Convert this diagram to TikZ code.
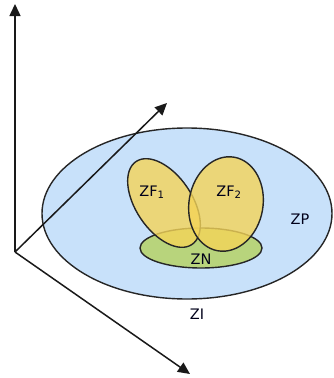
\documentclass[tikz,border=0pt]{standalone}
\usepackage{fontspec}
\setmainfont{DejaVu Sans}
\usetikzlibrary{arrows.meta}

\definecolor{zpblue}{RGB}{200,225,250}
\definecolor{zngreen}{RGB}{184,212,124}
\definecolor{zfyellow}{RGB}{244,212,88}

\begin{document}
\begin{tikzpicture}[x=1pt, y=-1pt,
        axis/.style={-{Triangle[length=12pt,width=11pt]}, line width=1.5pt, black!90},
        zone/.style={draw=black!85, line width=1.4pt},
        lbl/.style={font=\fontsize{14.5}{16}\selectfont, text=black!90!blue, inner sep=0pt}]
      \useasboundingbox (0,0) rectangle (334,378);
      \coordinate (o) at (15,252);
      \coordinate (zt) at (15,4);
      \coordinate (xt) at (167,103);
      \coordinate (yt) at (190,374);
      \draw[zone, fill=zpblue] (187,213.5) ellipse [x radius=145, y radius=85.5];
      \draw[axis] (o) -- (zt);
      \draw[axis] (o) -- (xt);
      \draw[axis] (o) -- (yt);
      \draw[zone, fill=zngreen] (201,248) ellipse [x radius=61, y radius=20];
      \draw[zone, fill=zfyellow, fill opacity=0.8]
        (164,203) ellipse [x radius=50, y radius=28, rotate=-56];
      \draw[zone, fill=zfyellow, fill opacity=0.8]
        (226,204) ellipse [x radius=47.5, y radius=37, rotate=80];
      \node[lbl] (zf1) at (152,192) {ZF\textsubscript{1}};
      \node[lbl] (zf2) at (229,192) {ZF\textsubscript{2}};
      \node[lbl] (zp) at (300,219) {ZP};
      \node[lbl] (zn) at (201,259) {ZN};
      \node[lbl] (zi) at (197,314) {ZI};
    \end{tikzpicture}
\end{document}
